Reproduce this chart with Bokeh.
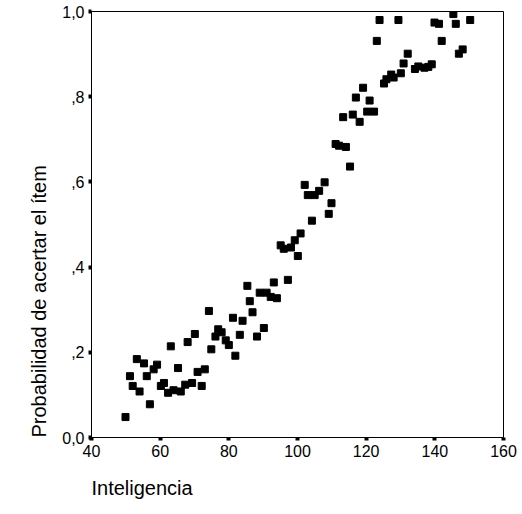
from bokeh.plotting import figure
from bokeh.models import FixedTicker, Title, Range1d
from bokeh.embed import file_html
from bokeh.resources import INLINE

inteligencia = [49.9, 57.0, 51.2, 52.0, 54.0, 53.2, 55.3, 56.1, 58.1, 59.1,
                60.2, 61.1, 62.3, 63.9, 66.0, 67.3, 69.3, 72.1, 65.2, 70.9,
                73.0, 63.1, 68.0, 70.1, 74.9, 76.1, 76.9, 77.9, 79.1, 80.0,
                81.9, 74.2, 81.2, 84.0, 83.2, 88.2, 90.2, 86.9, 86.1, 85.4,
                89.0, 91.0, 92.2, 94.0, 93.1, 97.2, 100.1, 95.1, 96.0, 98.1,
                99.2, 100.9, 104.2, 109.1, 109.9, 102.1, 103.0, 105.0, 106.3, 107.9,
                111.1, 112.1, 114.1, 115.3, 113.3, 116.1, 118.1, 117.0, 121.0, 120.3,
                122.3, 119.1, 123.1, 123.9, 129.4, 125.2, 125.9, 127.3, 128.0, 130.1,
                130.9, 132.1, 134.2, 135.2, 137.0, 138.1, 139.1, 139.9, 141.2, 142.0,
                145.4, 146.1, 150.3, 147.0, 148.1]
probabilidad = [0.048, 0.078, 0.144, 0.121, 0.108, 0.184, 0.174, 0.144, 0.160, 0.171,
                0.121, 0.128, 0.105, 0.111, 0.108, 0.124, 0.128, 0.121, 0.163, 0.154,
                0.160, 0.214, 0.224, 0.243, 0.207, 0.237, 0.254, 0.247, 0.228, 0.217,
                0.192, 0.297, 0.281, 0.274, 0.241, 0.237, 0.257, 0.294, 0.320, 0.356,
                0.340, 0.340, 0.330, 0.327, 0.364, 0.370, 0.426, 0.451, 0.443, 0.446,
                0.463, 0.479, 0.509, 0.525, 0.550, 0.593, 0.569, 0.569, 0.579, 0.599,
                0.689, 0.685, 0.682, 0.636, 0.752, 0.758, 0.741, 0.798, 0.791, 0.765,
                0.765, 0.821, 0.931, 0.980, 0.980, 0.831, 0.841, 0.852, 0.845, 0.855,
                0.878, 0.901, 0.865, 0.871, 0.868, 0.870, 0.876, 0.974, 0.971, 0.931,
                0.994, 0.971, 0.980, 0.901, 0.911]

x_ticks = [40, 60, 80, 100, 120, 140, 160]
y_ticks = [0.0, 0.2, 0.4, 0.6, 0.8, 1.0]
y_tick_labels = ["0,0", ",2", ",4", ",6", ",8", "1,0"]
x_title = "Inteligencia"
y_title = "Probabilidad de acertar el ítem"

FONT = "Liberation Sans"

p = figure(width=522, height=514, output_backend="svg", toolbar_location=None,
           x_range=Range1d(40, 160), y_range=Range1d(0, 1),
           min_border_left=91, min_border_right=19, min_border_top=11,
           min_border_bottom=77)
p.background_fill_color = "white"
p.border_fill_color = "white"
p.outline_line_color = "black"
p.outline_line_width = 1
p.xgrid.visible = False
p.ygrid.visible = False

p.scatter(inteligencia, probabilidad, marker="square", size=7,
          fill_color="black", line_color="black")

for ax in (p.xaxis[0], p.yaxis[0]):
    ax.axis_line_color = "black"
    ax.axis_line_width = 1
    ax.major_tick_line_color = "black"
    ax.major_tick_line_width = 4
    ax.major_tick_in = 0
    ax.major_tick_out = 3
    ax.minor_tick_line_color = None
    ax.major_label_text_font = FONT
    ax.major_label_text_font_size = "16px"
    ax.major_label_text_color = "black"

p.xaxis[0].ticker = FixedTicker(ticks=x_ticks)
p.xaxis[0].major_label_standoff = 4
p.yaxis[0].ticker = FixedTicker(ticks=y_ticks)
p.yaxis[0].major_label_overrides = {t: l for t, l in zip(y_ticks, y_tick_labels)}
p.yaxis[0].major_label_standoff = 4

p.add_layout(Title(text=y_title, align="left", text_font=FONT,
                   text_font_size="20px", text_font_style="normal",
                   text_color="black", standoff=19), "left")
p.add_layout(Title(text=x_title, align="left", text_font=FONT,
                   text_font_size="20px", text_font_style="normal",
                   text_color="black", standoff=30), "below")

open("out.html", "w").write(file_html(p, INLINE))
